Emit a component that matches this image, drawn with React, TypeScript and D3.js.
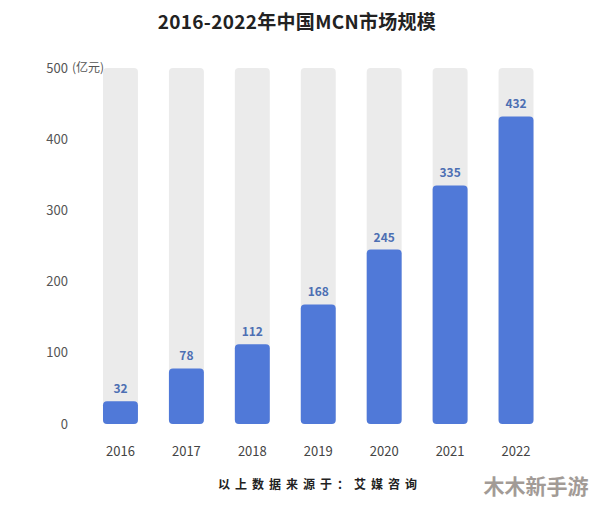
import { useEffect, useRef } from 'react';
import * as d3 from 'd3';

const years = ['2016', '2017', '2018', '2019', '2020', '2021', '2022'];
const marketSize = [32, 78, 112, 168, 245, 335, 432];
const yTicks = [0, 100, 200, 300, 400, 500];

const title = '2016-2022年中国MCN市场规模';
const unitLabel = '(亿元)';
const sourceText = '以上数据来源于：艾媒咨询';
const watermark = '木木新手游';

const FONT = '"Noto Sans CJK SC", "Noto Sans", sans-serif';

const App = () => {
  const ref = useRef<SVGSVGElement>(null);

  useEffect(() => {
    if (!ref.current) return;
    const svg = d3.select(ref.current);
    svg.selectAll('*').remove();

    const width = 594;
    const height = 507;

    svg.append('rect').attr('width', width).attr('height', height).attr('fill', '#fff');

    const x = d3.scaleBand<string>()
      .domain(years)
      .range([87.5, 549])
      .paddingInner(0.47)
      .paddingOuter(0.235);

    const y = d3.scaleLinear().domain([0, 500]).range([424, 68]);

    // title
    svg.append('text')
      .attr('x', 297)
      .attr('y', 29)
      .attr('text-anchor', 'middle')
      .attr('font-family', FONT)
      .attr('font-size', 19)
      .attr('font-weight', 'bold')
      .attr('letter-spacing', 0.3)
      .attr('fill', '#222')
      .text(title);

    // y tick labels
    svg.selectAll('text.ytick')
      .data(yTicks)
      .join('text')
      .attr('class', 'ytick')
      .attr('x', 68)
      .attr('y', d => y(d))
      .attr('dy', '0.35em')
      .attr('text-anchor', 'end')
      .attr('font-family', FONT)
      .attr('font-size', 13)
      .attr('fill', '#555')
      .text(d => d);

    svg.append('text')
      .attr('x', 72)
      .attr('y', y(500))
      .attr('dy', '0.35em')
      .attr('font-family', FONT)
      .attr('font-size', 12)
      .attr('fill', '#555')
      .text(unitLabel);

    const data = years.map((yr, i) => ({ year: yr, value: marketSize[i] }));

    // background bars
    svg.selectAll('rect.bg')
      .data(data)
      .join('rect')
      .attr('class', 'bg')
      .attr('x', d => x(d.year)!)
      .attr('y', y(500))
      .attr('width', x.bandwidth())
      .attr('height', y(0) - y(500))
      .attr('rx', 4)
      .attr('fill', '#ebebeb');

    // value bars
    svg.selectAll('rect.bar')
      .data(data)
      .join('rect')
      .attr('class', 'bar')
      .attr('x', d => x(d.year)!)
      .attr('y', d => y(d.value))
      .attr('width', x.bandwidth())
      .attr('height', d => y(0) - y(d.value))
      .attr('rx', 4)
      .attr('fill', '#5079d8');

    // value labels
    svg.selectAll('text.val')
      .data(data)
      .join('text')
      .attr('class', 'val')
      .attr('x', d => x(d.year)! + x.bandwidth() / 2)
      .attr('y', d => y(d.value) - 8)
      .attr('text-anchor', 'middle')
      .attr('font-family', FONT)
      .attr('font-size', 12)
      .attr('font-weight', 'bold')
      .attr('fill', '#4d6fb3')
      .text(d => d.value);

    // x labels
    svg.selectAll('text.xl')
      .data(data)
      .join('text')
      .attr('class', 'xl')
      .attr('x', d => x(d.year)! + x.bandwidth() / 2)
      .attr('y', 451)
      .attr('dy', '0.35em')
      .attr('text-anchor', 'middle')
      .attr('font-family', FONT)
      .attr('font-size', 13)
      .attr('fill', '#444')
      .text(d => d.year);

    // source
    svg.append('text')
      .attr('x', 320)
      .attr('y', 485)
      .attr('dy', '0.35em')
      .attr('text-anchor', 'middle')
      .attr('font-family', FONT)
      .attr('font-size', 12)
      .attr('font-weight', 'bold')
      .attr('letter-spacing', 5)
      .attr('fill', '#222')
      .text(sourceText);

    // watermark
    svg.append('text')
      .attr('x', 536)
      .attr('y', 487)
      .attr('dy', '0.35em')
      .attr('text-anchor', 'middle')
      .attr('font-family', FONT)
      .attr('font-size', 21)
      .attr('font-weight', 'bold')
      .attr('fill', '#8c837d')
      .attr('opacity', 0.8)
      .text(watermark);
  }, []);

  return (
    <svg
      ref={ref}
      width={594}
      height={507}
      style={{ position: 'absolute', left: 0, top: 0, display: 'block' }}
    />
  );
};

export default App;
